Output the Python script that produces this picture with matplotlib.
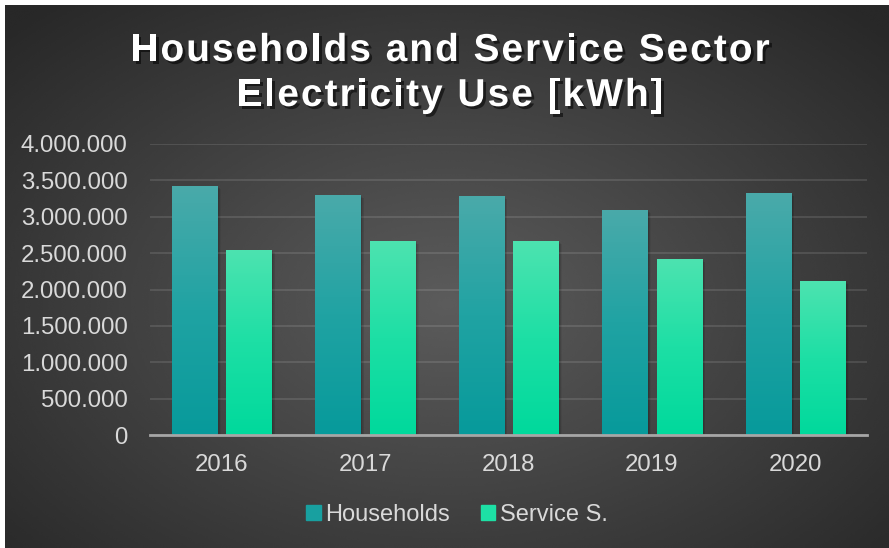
import numpy as np
import matplotlib

matplotlib.use("Agg")
import matplotlib.pyplot as plt
import matplotlib.patheffects as pe
from matplotlib.colors import LinearSegmentedColormap
from matplotlib.font_manager import FontProperties
from matplotlib.patches import Rectangle

years = ["2016", "2017", "2018", "2019", "2020"]
households = [3425000, 3300000, 3285000, 3095000, 3325000]
service = [2545000, 2665000, 2665000, 2420000, 2115000]
series_names = ["Households", "Service S."]
title_lines = ["Households and Service Sector", "Electricity Use [kWh]"]

W, H = 889, 548
plt.rcParams["font.family"] = ["Liberation Sans", "DejaVu Sans"]
fig = plt.figure(figsize=(W / 100, H / 100), dpi=100, facecolor="white")

# dark radial background, white strip on the top and left edges
bg = fig.add_axes([5 / W, 0, 1 - 5 / W, 1 - 5 / H], zorder=-10)
yy, xx = np.mgrid[0:1:300j, 0:1:500j]
r = np.sqrt(((xx - 0.5) / 0.75) ** 2 + ((yy - 0.55) / 0.8) ** 2)
shade = np.clip(0.36 - 0.22 * r, 0.16, 0.36)
bg.imshow(shade, cmap="gray", vmin=0, vmax=1, aspect="auto", extent=[0, 1, 0, 1],
          origin="upper", interpolation="bicubic")
bg.set_axis_off()

ax = fig.add_axes([150 / W, (H - 435) / H, 717 / W, 291 / H])
ax.patch.set_alpha(0)

x = np.arange(len(years))
width = 0.314
offset = 0.19

cmap_h = LinearSegmentedColormap.from_list("hh", ["#079a9b", "#20a3a3", "#4aaaaa"])
cmap_s = LinearSegmentedColormap.from_list("ss", ["#00d99c", "#1ddfa5", "#4de3b0"])
grad = np.linspace(0, 1, 256).reshape(-1, 1)

for vals, pos, cmap in [(households, x - offset, cmap_h), (service, x + offset, cmap_s)]:
    bars = ax.bar(pos, vals, width=width, color="none", zorder=3)
    for b in bars:
        x0, w, h = b.get_x(), b.get_width(), b.get_height()
        # soft drop shadow
        for k in range(6):
            ax.add_patch(Rectangle((x0 + 0.004 * k, 0), w + 0.006, h - 9000 * k,
                                   color="black", alpha=0.05, lw=0, zorder=2))
        im = ax.imshow(grad, cmap=cmap, extent=[x0, x0 + w, 0, h], origin="lower",
                       aspect="auto", zorder=3)
        im.set_clip_path(b)

ax.set_xlim(-0.5, len(years) - 0.5)
ax.set_ylim(0, 4000000)
ax.set_yticks(np.arange(0, 4000001, 500000))
ax.set_yticklabels([f"{v:,.0f}".replace(",", ".") for v in ax.get_yticks()])
ax.set_xticks(x)
ax.set_xticklabels(years)
ax.tick_params(length=0, labelsize=17.3, colors="#d9d9d9")
ax.tick_params(axis="y", pad=16)
ax.tick_params(axis="x", pad=14)
ax.grid(axis="y", color="white", alpha=0.12, lw=1.3, zorder=1)
ax.set_axisbelow(True)
for s in ["top", "right", "left"]:
    ax.spines[s].set_visible(False)
ax.spines["bottom"].set_color("#a6a6a6")
ax.spines["bottom"].set_linewidth(2)
ax.spines["bottom"].set_zorder(5)

# title drawn character by character to get the wide letter spacing
title_font = FontProperties(family="Liberation Sans", weight="bold", size=28)
renderer = fig.canvas.get_renderer()
spacing = 2.0  # extra pixels between letters
shadow = [pe.withSimplePatchShadow(offset=(2, -2), shadow_rgbFace="black", alpha=0.55)]


def text_width(s):
    if not s:
        return 0.0
    return renderer.get_text_width_height_descent(s, title_font, ismath=False)[0]


for line, yc in zip(title_lines, [47, 92]):
    total = text_width(line) + spacing * (len(line) - 1)
    start = 450 - total / 2
    for i, ch in enumerate(line):
        if ch == " ":
            continue
        px = start + text_width(line[:i]) + spacing * i
        fig.text(px / W, 1 - yc / H, ch, ha="left", va="center_baseline",
                 color="white", fontproperties=title_font, path_effects=shadow)

handles = [Rectangle((0, 0), 1, 1, color="#18a0a0"), Rectangle((0, 0), 1, 1, color="#1de0a5")]
fig.legend(handles, series_names, loc="center", bbox_to_anchor=(457 / W, 1 - 515 / H),
           ncol=2, frameon=False, fontsize=17, labelcolor="#d9d9d9", handlelength=0.6,
           handleheight=0.6, handletextpad=0.2, columnspacing=1.3)

fig.savefig("out.png", dpi=100, facecolor=fig.get_facecolor())
